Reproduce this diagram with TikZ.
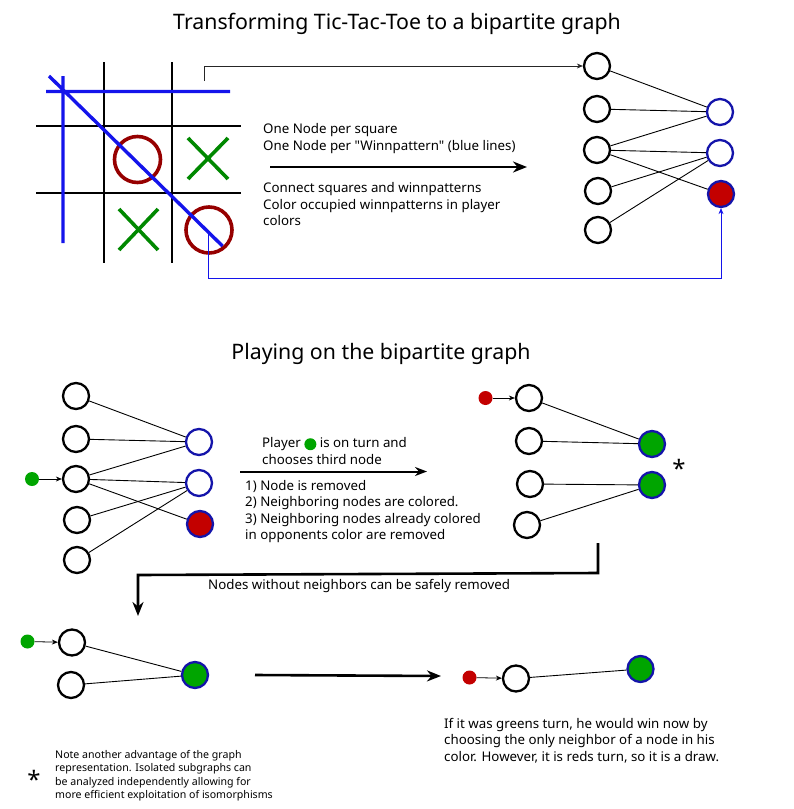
\documentclass[tikz,border=0pt]{standalone}
\usepackage{fontspec}
\setmainfont{Noto Sans}[Ligatures=TeXOff]
\usepackage{xcolor}
\usepackage{tikz}
\usetikzlibrary{positioning}
\usetikzlibrary{arrows.meta}

\definecolor{winblue}{RGB}{20,20,170}
\definecolor{lineblue}{RGB}{20,20,235}
\definecolor{ored}{RGB}{150,0,0}
\definecolor{xgreen}{RGB}{0,136,0}
\definecolor{nodered}{RGB}{195,0,0}
\definecolor{nodegreen}{RGB}{0,165,0}

\begin{document}
\begin{tikzpicture}[
				x=1pt, y=-1pt,
				sq/.style={circle, draw, line width=2.3pt, minimum size=26pt, inner sep=0pt},
				win/.style={sq, draw=winblue},
				winred/.style={win, fill=nodered},
				wingreen/.style={win, fill=nodegreen},
				dot/.style={circle, inner sep=0pt, minimum size=14pt},
				edge/.style={line width=0.9pt},
				bigarrow/.style={-{Stealth[length=14pt, width=11pt]}, line width=2.6pt},
				smallarrow/.style={-{Stealth[length=6pt, width=5pt]}, line width=0.8pt},
				body/.style={font=\fontsize{13.3}{16.5}\selectfont, align=left, inner sep=0pt},
				title/.style={font=\fontsize{21.3}{24}\selectfont, inner sep=0pt}
			]
			\useasboundingbox (0,0) rectangle (794,809);

			% Titles
			\node[title] (title1) at (397,24) {Transforming Tic-Tac-Toe to a bipartite graph};
			\node[title] (title2) at (381,354) {Playing on the bipartite graph};

			% Tic-Tac-Toe board
			\draw[line width=2pt] (104,62) -- (104,263) (172,62) -- (172,263)
				(36,126) -- (241,126) (36,193) -- (241,193);
			\draw[ored, line width=3.6pt] (137.5,159.5) circle (23) (209,230) circle (23);
			\draw[xgreen, line width=3.6pt] (188,138) -- (228,179) (228,138) -- (188,179)
				(119,209) -- (158,250) (158,209) -- (119,250);
			\draw[lineblue, line width=3.4pt] (46,91.5) -- (230,91.5) (63,76) -- (63,243) (49,76) -- (222.5,246);

			% Graph of the board
			\foreach \i/\x/\y in {1/597/66, 2/597/109, 3/597/150, 4/598/191, 5/598/230}
				\node[sq] (s\i) at (\x,\y) {};
			\node[win] (w1) at (720,112) {};
			\node[win] (w2) at (720,153) {};
			\node[winred] (w3) at (721,194) {};
			\foreach \a/\b in {1/1, 2/1, 3/1, 3/2, 3/3, 4/2, 5/2}
				\draw[edge] (s\a) -- (w\b);

			\coordinate (gridtop) at (204,81);
			\coordinate (gridbot) at (208,233);
			\coordinate (bendbot) at (208,278);
			\draw[smallarrow, black!85] (gridtop) |- (s1);
			\draw[smallarrow, lineblue] (gridbot) -- (bendbot) -| (w3);

			\coordinate (a1s) at (270,167);
			\coordinate (a1e) at (527,167);
			\draw[bigarrow] (a1s) -- (a1e);
			\node[body, anchor=west] (t1) at (263,138.5) {One Node per square\\One Node per "Winnpattern" (blue lines)};
			\node[body, anchor=west] (t2) at (263,204.5) {Connect squares and winnpatterns\\Color occupied winnpatterns in player\\colors};

			% Playing: first move
			\foreach \i/\x/\y in {1/76/396, 2/76/439, 3/76/479, 4/77/520, 5/77/560}
				\node[sq] (p\i) at (\x,\y) {};
			\node[win] (q1) at (199,442) {};
			\node[win] (q2) at (199,483) {};
			\node[winred] (q3) at (200,524) {};
			\foreach \a/\b in {1/1, 2/1, 3/1, 3/2, 3/3, 4/2, 5/2}
				\draw[edge] (p\a) -- (q\b);
			\node[dot, fill=nodegreen] (pg) at (32,479) {};
			\draw[smallarrow] (pg) -- (p3);

			\coordinate (a2s) at (240,471.5);
			\coordinate (a2e) at (427,471.5);
			\draw[bigarrow, line width=2pt, -{Stealth[length=12pt, width=9pt]}] (a2s) -- (a2e);
			\node[body, anchor=west] (t3) at (262,451) {Player \tikz[baseline=-3.5pt]\fill[nodegreen] (0,0) circle (6pt); is on turn and\\chooses third node};
			\node[body, anchor=west] (t4) at (245,511.5) {1) Node is removed\\2) Neighboring nodes are colored.\\3) Neighboring nodes already colored\\in opponents color are removed};

			% After the move
			\node[sq] (r1) at (529,398) {};
			\node[sq] (r2) at (529,441) {};
			\node[sq] (r3) at (530,484) {};
			\node[sq] (r4) at (527,525) {};
			\node[wingreen] (g1) at (652,444) {};
			\node[wingreen] (g2) at (652,485) {};
			\draw[edge] (r1) -- (g1);
			\draw[edge] (r2) -- (g1);
			\draw[edge] (r3) -- (g2);
			\draw[edge] (r4) -- (g2);
			\node[dot, fill=nodered] (rr) at (485.5,398) {};
			\draw[smallarrow] (rr) -- (r1);
			\node[font=\fontsize{24}{24}\selectfont, inner sep=0pt] (star1) at (679,468) {*};

			% Removing isolated nodes
			\coordinate (b1) at (598,543);
			\coordinate (b2) at (138,616);
			\draw[bigarrow] (b1) -- (598,573) -- (138,575) -- (b2);
			\node[body, anchor=west] (t5) at (208,586) {Nodes without neighbors can be safely removed};

			\node[sq] (u1) at (72,642.5) {};
			\node[sq] (u2) at (71,685) {};
			\node[wingreen] (ug) at (195,675) {};
			\draw[edge] (u1) -- (ug);
			\draw[edge] (u2) -- (ug);
			\node[dot, fill=nodegreen] (ud) at (27.5,641.5) {};
			\draw[smallarrow] (ud) -- (u1);

			\coordinate (a3s) at (255,675);
			\coordinate (a3e) at (441,676);
			\draw[bigarrow] (a3s) -- (a3e);

			\node[sq] (v1) at (516,678.5) {};
			\node[wingreen] (vg) at (640.5,669) {};
			\draw[edge] (v1) -- (vg);
			\node[dot, fill=nodered] (vd) at (469.5,677.5) {};
			\draw[smallarrow] (vd) -- (v1);

			% Notes
			\node[body, anchor=west] (t6) at (444,740.5) {If it was greens turn, he would win now by\\choosing the only neighbor of a node in his\\color. However, it is reds turn, so it is a draw.};
			\node[font=\fontsize{24}{24}\selectfont, inner sep=0pt] (star2) at (34,779) {*};
			\node[body, font=\fontsize{10.6}{13.5}\selectfont, anchor=west] (t7) at (55,775.5) {Note another advantage of the graph\\representation. Isolated subgraphs can\\be analyzed independently allowing for\\more efficient exploitation of isomorphisms};

		\end{tikzpicture}
\end{document}
